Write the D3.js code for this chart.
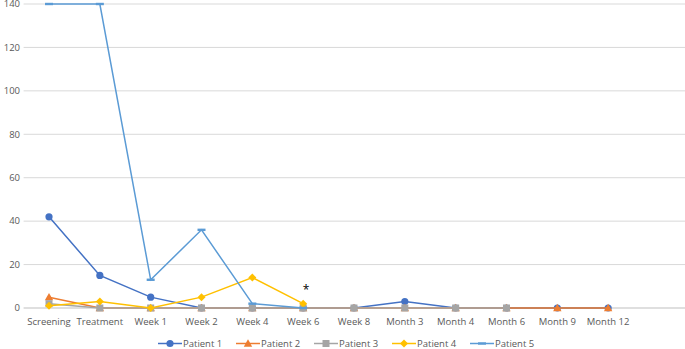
<!DOCTYPE html>
<html>
<head>
<meta charset="utf-8">
<script src="https://cdn.jsdelivr.net/npm/d3@7"></script>
<style>
  body { margin: 0; background: #fff; }
  text { font-family: "Open Sans", sans-serif; fill: #595959; }
</style>
</head>
<body>
<div id="chart-area"></div>
<script>
var width = 685;
var height = 349;

var categories = ["Screening", "Treatment", "Week 1", "Week 2", "Week 4", "Week 6",
  "Week 8", "Month 3", "Month 4", "Month 6", "Month 9", "Month 12"];
var yTicks = [0, 20, 40, 60, 80, 100, 120, 140];

var patient1 = [42, 15, 5, 0, 0, 0, 0, 3, 0, 0, 0, 0];
var patient2 = [5, 0, 0, 0, 0, 0, 0, 0, 0, 0, 0, 0];
var patient3 = [2, 0, 0, 0, 0, 0, 0, 0, 0, 0, null, null];
var patient4 = [1, 3, 0, 5, 14, 2, null, null, null, null, null, null];
var patient5 = [140, 140, 13, 36, 2, 0, null, null, null, null, null, null];

var seriesNames = ["Patient 1", "Patient 2", "Patient 3", "Patient 4", "Patient 5"];
var seriesColors = ["#4472C4", "#ED7D31", "#A5A5A5", "#FFC000", "#5B9BD5"];
var seriesMarkers = ["circle", "triangle", "square", "diamond", "dash"];
var seriesValues = [patient1, patient2, patient3, patient4, patient5];

var series = seriesNames.map(function(name, i) {
  return { name: name, color: seriesColors[i], marker: seriesMarkers[i], values: seriesValues[i] };
});

var svg = d3.select("#chart-area")
  .append("svg")
  .attr("width", width)
  .attr("height", height);

// scales
var x = d3.scaleBand()
  .domain(categories)
  .range([23.6, 23.6 + 50.83 * categories.length]);
var y = d3.scaleLinear()
  .domain([0, 140])
  .range([308, 4]);

function cx(c) { return x(c) + x.bandwidth() / 2; }

// gridlines
svg.append("g")
  .selectAll("line")
  .data(yTicks.filter(function(d) { return d > 0; }))
  .enter().append("line")
  .attr("x1", x.range()[0])
  .attr("x2", width)
  .attr("y1", function(d) { return y(d); })
  .attr("y2", function(d) { return y(d); })
  .attr("stroke", "#D9D9D9")
  .attr("stroke-width", 1);

// y labels (140 sits at the top edge, partly cut as in the original)
svg.append("g")
  .selectAll("text")
  .data(yTicks)
  .enter().append("text")
  .attr("x", 20)
  .attr("y", function(d) { return y(d); })
  .attr("dy", "0.35em")
  .attr("text-anchor", "end")
  .style("font-size", "9.5px")
  .text(function(d) { return d; });

// x axis line
svg.append("line")
  .attr("x1", x.range()[0])
  .attr("x2", width)
  .attr("y1", y(0))
  .attr("y2", y(0))
  .attr("stroke", "#BFBFBF")
  .attr("stroke-width", 1.2);

// x labels
svg.append("g")
  .selectAll("text")
  .data(categories)
  .enter().append("text")
  .attr("x", function(d) { return cx(d); })
  .attr("y", 322)
  .attr("dy", "0.35em")
  .attr("text-anchor", "middle")
  .style("font-size", "9.5px")
  .text(function(d) { return d; });

var line = d3.line()
  .defined(function(d) { return d.v !== null; })
  .x(function(d) { return cx(d.c); })
  .y(function(d) { return y(d.v); });

function drawMarker(g, type, color) {
  if (type === "circle") {
    g.append("circle").attr("r", 3.6).attr("fill", color);
  } else if (type === "triangle") {
    g.append("path").attr("d", "M0,-4.2L4.2,3.2L-4.2,3.2Z").attr("fill", color);
  } else if (type === "square") {
    g.append("rect").attr("x", -3.5).attr("y", -3.5).attr("width", 7).attr("height", 7).attr("fill", color);
  } else if (type === "diamond") {
    g.append("path").attr("d", "M0,-4L4,0L0,4L-4,0Z").attr("fill", color);
  } else if (type === "dash") {
    g.append("rect").attr("x", -4).attr("y", -1.2).attr("width", 8).attr("height", 2.4).attr("fill", color);
  }
}

series.forEach(function(s) {
  var pts = s.values.map(function(v, i) { return { c: categories[i], v: v }; });
  var g = svg.append("g");
  g.append("path")
    .datum(pts)
    .attr("d", line)
    .attr("fill", "none")
    .attr("stroke", s.color)
    .attr("stroke-width", 1.5);
  pts.filter(function(d) { return d.v !== null; }).forEach(function(d) {
    var m = g.append("g").attr("transform", "translate(" + cx(d.c) + "," + y(d.v) + ")");
    drawMarker(m, s.marker, s.color);
  });
});

// asterisk on Patient 4 last value
svg.append("text")
  .attr("x", cx("Week 6") + 3)
  .attr("y", y(2) - 10)
  .attr("text-anchor", "middle")
  .style("font-size", "12px")
  .style("fill", "#000")
  .text("*");

// legend
var legend = svg.append("g");
series.forEach(function(s, i) {
  var lg = legend.append("g").attr("transform", "translate(" + (158 + i * 78) + ",343.5)");
  lg.append("line").attr("x1", 0).attr("x2", 24).attr("y1", 0).attr("y2", 0)
    .attr("stroke", s.color).attr("stroke-width", 1.5);
  var m = lg.append("g").attr("transform", "translate(12,0)");
  drawMarker(m, s.marker, s.color);
  lg.append("text").attr("x", 25).attr("y", 0).attr("dy", "0.35em")
    .style("font-size", "9.5px")
    .text(s.name);
});
</script>
</body>
</html>
